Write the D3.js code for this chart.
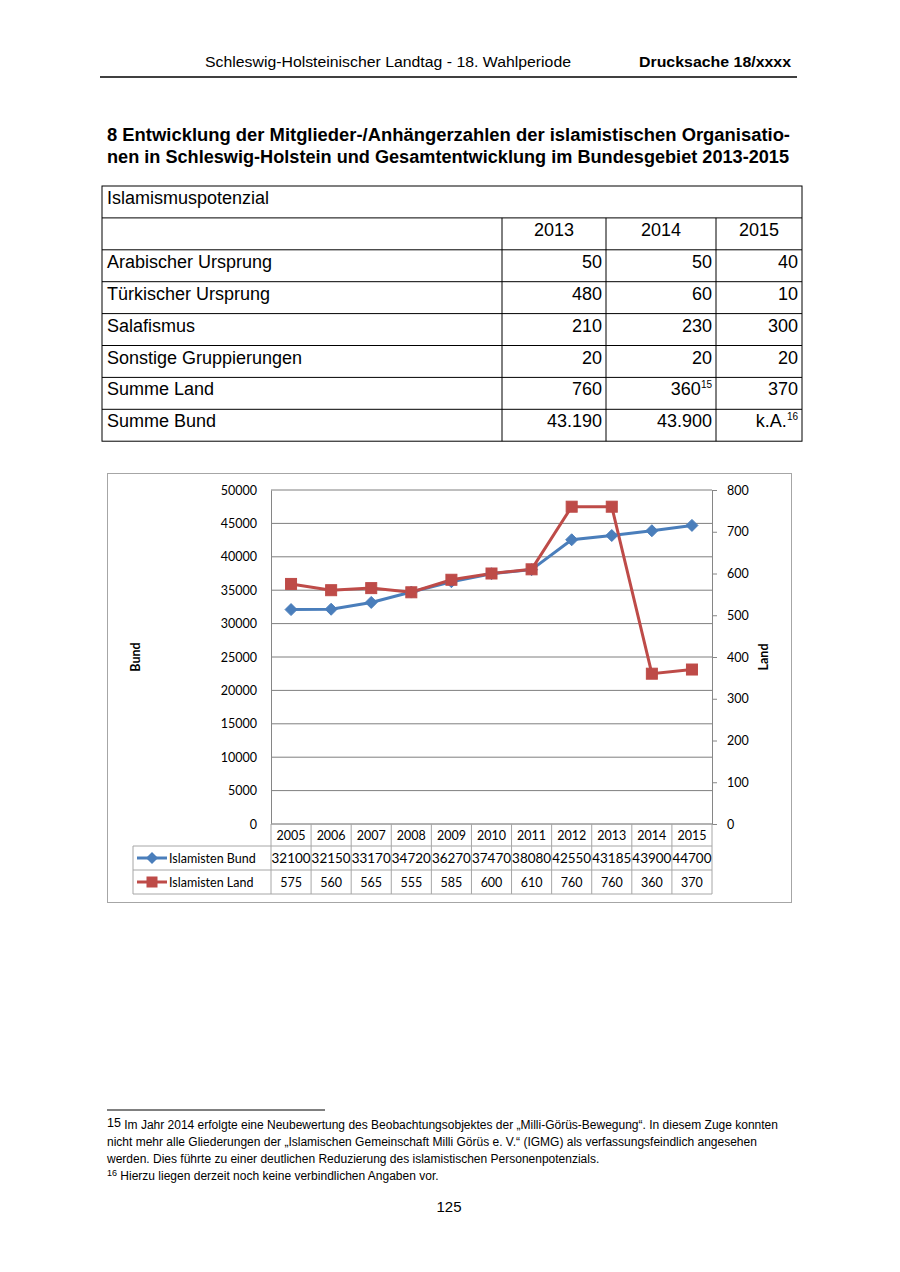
<!DOCTYPE html>
<html><head><meta charset="utf-8">
<script src="https://cdn.jsdelivr.net/npm/d3@7"></script>
<style>
body{margin:0;background:#fff;}
svg{display:block;}
</style></head>
<body>
<svg id="page" width="900" height="1272"></svg>
<script>
const years = ["2005","2006","2007","2008","2009","2010","2011","2012","2013","2014","2015"];
const bund = [32100,32150,33170,34720,36270,37470,38080,42550,43185,43900,44700];
const land = [575,560,565,555,585,600,610,760,760,360,370];
const leftTicks = [0,5000,10000,15000,20000,25000,30000,35000,40000,45000,50000];
const rightTicks = [0,100,200,300,400,500,600,700,800];
const tableCols = ["2013","2014","2015"];
const tableRows = [
  ["Arabischer Ursprung","50","50","40"],
  ["Türkischer Ursprung","480","60","10"],
  ["Salafismus","210","230","300"],
  ["Sonstige Gruppierungen","20","20","20"],
  ["Summe Land","760","360","370"],
  ["Summe Bund","43.190","43.900","k.A."]
];
const tableSup = {"4-2":"15","5-3":"16"};

const svg = d3.select("#page");
const serif = "'Liberation Sans', Arial, sans-serif";

// Header
svg.append("text").attr("x",205).attr("y",67)
  .attr("font-family",serif).attr("font-size",15.5).attr("textLength",366).attr("lengthAdjust","spacingAndGlyphs")
  .text("Schleswig-Holsteinischer Landtag - 18. Wahlperiode");
svg.append("text").attr("x",639).attr("y",67)
  .attr("font-family",serif).attr("font-size",15).attr("font-weight","bold").attr("textLength",152).attr("lengthAdjust","spacingAndGlyphs").text("Drucksache 18/xxxx");
svg.append("line").attr("x1",100).attr("x2",797).attr("y1",77).attr("y2",77).attr("stroke","#000").attr("stroke-width",1.5);

// Title
svg.append("text").attr("x",107).attr("y",141).attr("font-family",serif).attr("font-size",17.5).attr("font-weight","bold")
  .attr("textLength",683).attr("lengthAdjust","spacingAndGlyphs")
  .text("8 Entwicklung der Mitglieder-/Anhängerzahlen der islamistischen Organisatio-");
svg.append("text").attr("x",107).attr("y",163).attr("font-family",serif).attr("font-size",17.5).attr("font-weight","bold")
  .attr("textLength",682).attr("lengthAdjust","spacingAndGlyphs")
  .text("nen in Schleswig-Holstein und Gesamtentwicklung im Bundesgebiet 2013-2015");

// Table
const tX = [102,502,606,716,802];
const tY = d3.range(9).map(i=>186+i*31.9);
const tg = svg.append("g").attr("font-family",serif).attr("font-size",18);
tg.append("rect").attr("x",102).attr("y",186).attr("width",700).attr("height",tY[8]-186).attr("fill","none").attr("stroke","#000");
for(let i=1;i<8;i++) tg.append("line").attr("x1",102).attr("x2",802).attr("y1",tY[i]).attr("y2",tY[i]).attr("stroke","#000");
for(let c=1;c<4;c++) tg.append("line").attr("x1",tX[c]).attr("x2",tX[c]).attr("y1",tY[1]).attr("y2",tY[8]).attr("stroke","#000");
tg.append("text").attr("x",107).attr("y",tY[0]+18).text("Islamismuspotenzial");
tableCols.forEach((c,i)=>tg.append("text").attr("x",(tX[i+1]+tX[i+2])/2).attr("y",tY[1]+18).attr("text-anchor","middle").text(c));
tableRows.forEach((r,ri)=>{
  const y = tY[ri+2]+18;
  tg.append("text").attr("x",107).attr("y",y).text(r[0]);
  for(let c=1;c<4;c++){
    const sup = tableSup[ri+"-"+c];
    const t = tg.append("text").attr("x",tX[c+1]-4).attr("y",y).attr("text-anchor","end");
    t.append("tspan").text(r[c]);
    if(sup) t.append("tspan").attr("font-size",10).attr("dy",-7).text(sup);
  }
});

// Chart
const cf = "Lato, 'Open Sans', sans-serif";
svg.append("rect").attr("x",107.5).attr("y",473.5).attr("width",684).attr("height",429).attr("fill","#fff").attr("stroke","#a6a6a6");
const pl=271, pr=712, pt=490, pb=824;
const x = d3.scaleBand().domain(years).range([pl,pr]);
const yL = d3.scaleLinear().domain([0,50000]).range([pb,pt]);
const yR = d3.scaleLinear().domain([0,800]).range([pb,pt]);
const cg = svg.append("g").attr("font-family",cf).attr("font-size",12.5);

// gridlines
cg.selectAll(".grid").data(leftTicks).join("line")
  .attr("x1",pl).attr("x2",pr).attr("y1",d=>yL(d)).attr("y2",d=>yL(d))
  .attr("stroke","#7f7f7f").attr("stroke-width",1);
// left axis
const la = cg.append("g").attr("transform",`translate(${pl},0)`)
  .call(d3.axisLeft(yL).tickValues(leftTicks).tickSize(0).tickPadding(14).tickFormat(d3.format("d")));
la.select(".domain").attr("stroke","#868686");
la.selectAll("text").attr("font-family",cf).attr("font-size",12.5).attr("fill","#000");
// right axis
const ra = cg.append("g").attr("transform",`translate(${pr},0)`)
  .call(d3.axisRight(yR).tickValues(rightTicks).tickSize(5).tickPadding(10).tickFormat(d3.format("d")));
ra.select(".domain").attr("stroke","#868686");
ra.selectAll("line").attr("stroke","#868686");
ra.selectAll("text").attr("font-family",cf).attr("font-size",12.5).attr("fill","#000");

// axis titles
cg.append("text").attr("transform","translate(140,657) rotate(-90)").attr("text-anchor","middle").attr("font-weight","bold").attr("font-size",12.5).text("Bund");
cg.append("text").attr("transform","translate(768,657) rotate(-90)").attr("text-anchor","middle").attr("font-weight","bold").attr("font-size",12.5).text("Land");

// lines
const blue="#4a7ebb", red="#be4b48";
const cx = d=>x(d)+x.bandwidth()/2;
cg.append("path").datum(bund.map((v,i)=>[cx(years[i]),yL(v)])).attr("d",d3.line()).attr("fill","none").attr("stroke",blue).attr("stroke-width",3);
cg.append("path").datum(land.map((v,i)=>[cx(years[i]),yR(v)])).attr("d",d3.line()).attr("fill","none").attr("stroke",red).attr("stroke-width",3);
const diamond = "M0,-6L6,0L0,6L-6,0Z";
cg.selectAll(".bm").data(bund).join("path").attr("d",diamond)
  .attr("transform",(d,i)=>`translate(${cx(years[i])},${yL(d)})`).attr("fill",blue).attr("stroke",blue);
cg.selectAll(".lm").data(land).join("rect")
  .attr("x",(d,i)=>cx(years[i])-5.5).attr("y",d=>yR(d)-5.5).attr("width",11).attr("height",11)
  .attr("fill",red).attr("stroke",red);

// data table
const dt = cg.append("g");
const gs="#a6a6a6";
years.forEach((yv,i)=>{
  dt.append("line").attr("x1",x(yv)).attr("x2",x(yv)).attr("y1",824).attr("y2",894).attr("stroke",gs);
});
dt.append("line").attr("x1",pr).attr("x2",pr).attr("y1",824).attr("y2",894).attr("stroke",gs);
dt.append("line").attr("x1",133).attr("x2",133).attr("y1",846).attr("y2",894).attr("stroke",gs);
dt.append("line").attr("x1",pl).attr("x2",pr).attr("y1",824).attr("y2",824).attr("stroke",gs);
[846,870,894].forEach(yy=>dt.append("line").attr("x1",133).attr("x2",pr).attr("y1",yy).attr("y2",yy).attr("stroke",gs));
years.forEach((yv,i)=>{
  dt.append("text").attr("x",cx(yv)).attr("y",840).attr("text-anchor","middle").text(yv);
  dt.append("text").attr("x",cx(yv)).attr("y",863).attr("text-anchor","middle").attr("textLength",39).attr("lengthAdjust","spacingAndGlyphs").text(bund[i]);
  dt.append("text").attr("x",cx(yv)).attr("y",887).attr("text-anchor","middle").text(land[i]);
});
// legend keys
dt.append("line").attr("x1",137).attr("x2",167).attr("y1",858).attr("y2",858).attr("stroke",blue).attr("stroke-width",3);
dt.append("path").attr("d",diamond).attr("transform","translate(152,858)").attr("fill",blue);
dt.append("text").attr("x",169).attr("y",863).text("Islamisten Bund");
dt.append("line").attr("x1",137).attr("x2",167).attr("y1",882).attr("y2",882).attr("stroke",red).attr("stroke-width",3);
dt.append("rect").attr("x",146.5).attr("y",876.5).attr("width",11).attr("height",11).attr("fill",red);
dt.append("text").attr("x",169).attr("y",887).text("Islamisten Land");

// footnotes
svg.append("line").attr("x1",107).attr("x2",325).attr("y1",1110).attr("y2",1110).attr("stroke","#000").attr("stroke-width",1);
const fg = svg.append("g").attr("font-family",serif).attr("font-size",12);
const f1 = fg.append("text").attr("x",107).attr("y",1129);
f1.append("tspan").attr("font-size",12.5).attr("dy",-2).text("15");
f1.append("tspan").attr("dy",2).text(" Im Jahr 2014 erfolgte eine Neubewertung des Beobachtungsobjektes der „Milli-Görüs-Bewegung“. In diesem Zuge konnten");
fg.append("text").attr("x",107).attr("y",1146).text("nicht mehr alle Gliederungen der „Islamischen Gemeinschaft Milli Görüs e. V.“  (IGMG) als verfassungsfeindlich angesehen");
fg.append("text").attr("x",107).attr("y",1163).text("werden. Dies führte zu einer deutlichen Reduzierung des islamistischen Personenpotenzials.");
const f2 = fg.append("text").attr("x",107).attr("y",1180);
f2.append("tspan").attr("font-size",9).attr("dy",-4).text("16");
f2.append("tspan").attr("dy",4).text(" Hierzu liegen derzeit noch keine verbindlichen Angaben vor.");
svg.append("text").attr("x",449).attr("y",1212).attr("text-anchor","middle").attr("font-family",serif).attr("font-size",15).text("125");
</script>
</body></html>
